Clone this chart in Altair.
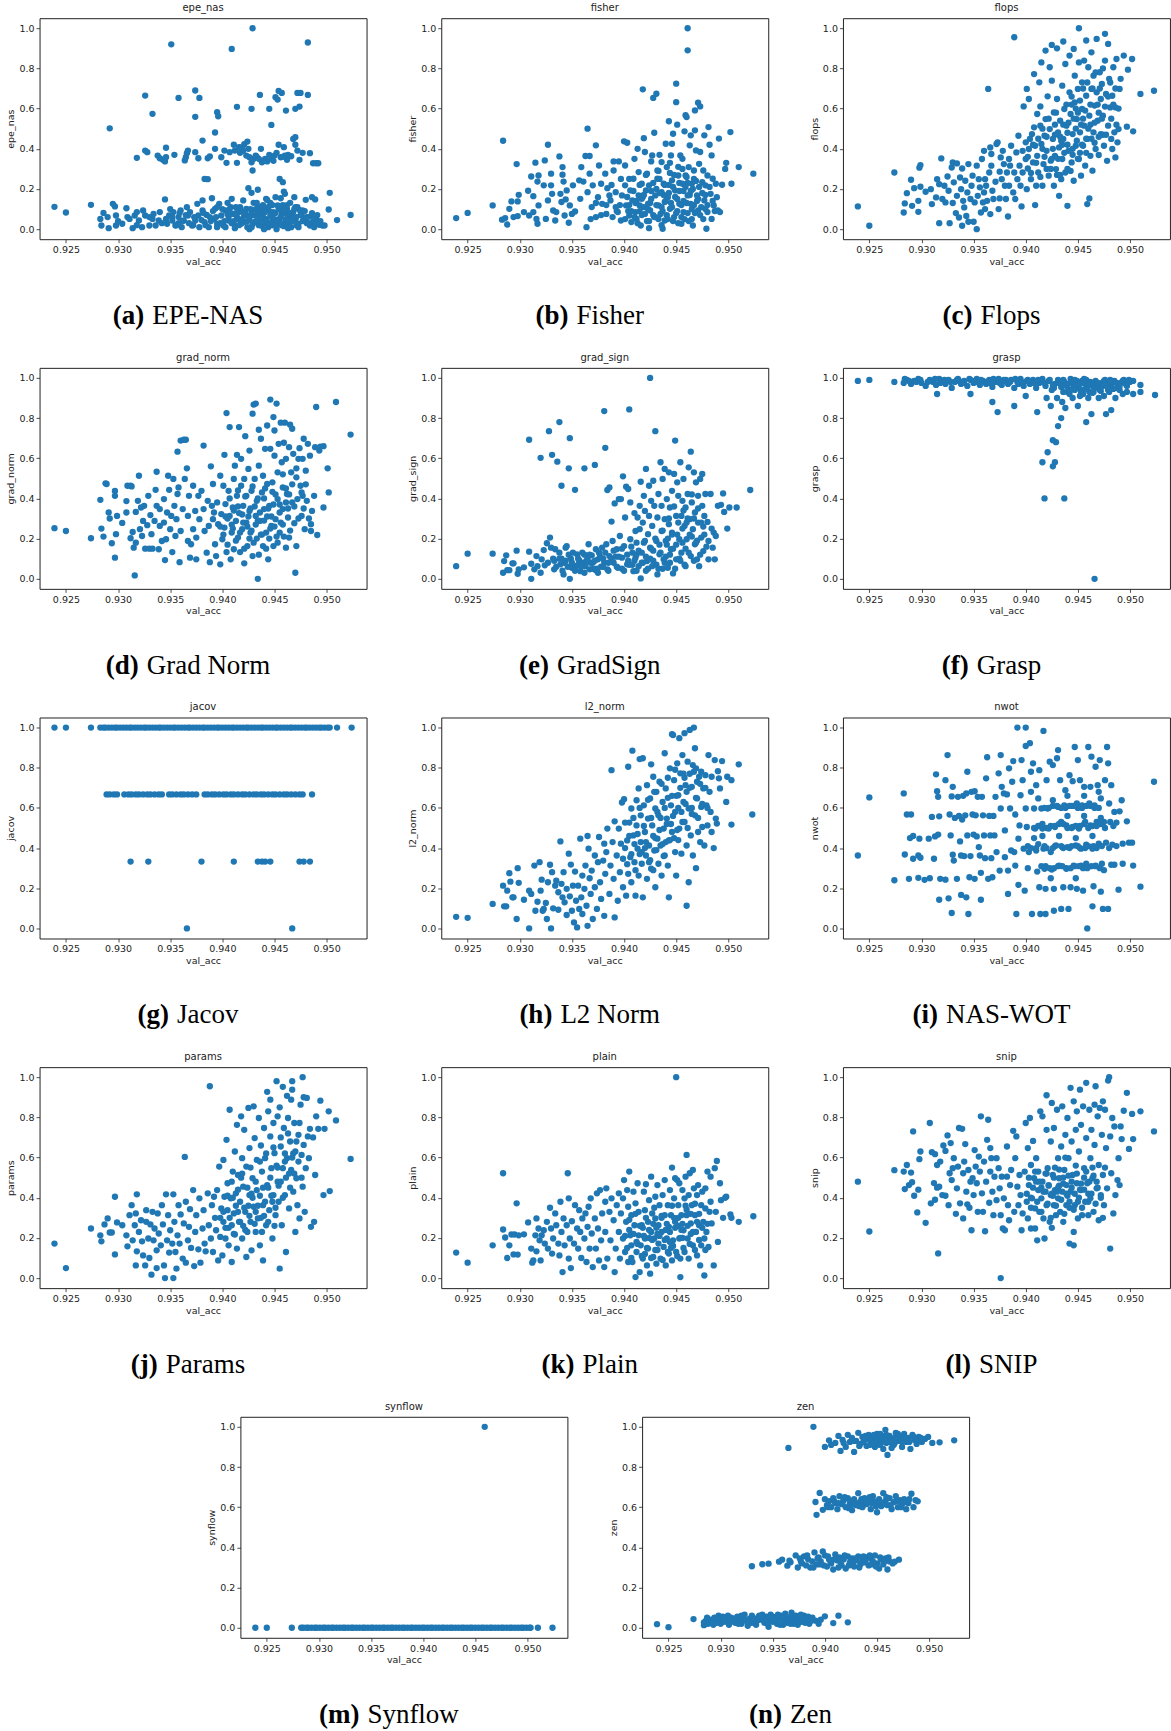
import altair as alt
import pandas as pd

# ---------------- data (val_acc, score) ----------------
EPE_NAS = [(.9239,.111),(.9250,.083),(.9274,.121),(.9292,.502),(.9351,.920),(.9409,.897),(.9429,1.0),(.9482,.929),
(.9326,.665),(.9333,.574),(.9358,.653),(.9374,.690),(.9378,.653),(.9374,.559),(.9395,.582),(.9396,.562),(.9414,.609),
(.9428,.599),(.9436,.668),(.9445,.599),(.9447,.519),(.9451,.657),(.9453,.645),(.9454,.688),(.9457,.678),(.9461,.590),
(.9470,.599),(.9474,.610),(.9472,.678),(.9475,.678),(.9482,.668),(.9393,.481),
(.9318,.355),(.9326,.391),(.9328,.383),(.9338,.366),(.9340,.353),(.9343,.345),(.9345,.337),(.9346,.405),(.9346,.358),
(.9354,.370),(.9364,.342),(.9365,.358),(.9366,.378),(.9367,.391),(.9374,.383),(.9377,.353),(.9381,.441),(.9383,.250),
(.9386,.249),(.9386,.353),(.9388,.362),(.9393,.400),(.9399,.358),(.9402,.391),(.9404,.330),(.9407,.383),(.9411,.420),
(.9412,.391),(.9414,.330),(.9416,.408),(.9417,.380),(.9419,.408),(.9421,.423),(.9423,.366),(.9424,.436),(.9426,.358),
(.9428,.333),(.9429,.292),(.9430,.350),(.9432,.366),(.9437,.400),(.9438,.333),(.9443,.337),(.9447,.350),(.9450,.366),
(.9454,.420),(.9455,.250),(.9458,.234),(.9456,.358),(.9459,.408),(.9460,.366),(.9462,.345),(.9466,.363),(.9468,.449),
(.9470,.458),(.9470,.420),(.9472,.391),(.9474,.345),(.9477,.380),(.9484,.378),(.9487,.328),(.9490,.328),(.9492,.328),
(.9283,.051),(.9284,.018),(.9286,.081),(.9290,.060),(.9291,.005),(.9295,.126),(.9297,.113),(.9298,.068),(.9298,.018),
(.9304,.027),(.9308,.104),(.9309,.060),(.9311,.051),(.9314,.005),(.9316,.068),(.9318,.085),(.9320,.043),(.9323,.010),
(.9324,.093),(.9326,.068),(.9330,.018),(.9333,.051),(.9334,.076),(.9336,.018),(.9339,.043),(.9340,.085),(.9345,.148),
(.9346,.051),(.9347,.027),(.9349,.068),(.9352,.043),(.9353,.085),(.9355,.018),(.9358,.060),(.9360,.093),(.9361,.010),
(.9363,.043),(.9366,.109),(.9367,.068),(.9369,.085),(.9371,.018),(.9374,.043),(.9376,.126),(.9377,.068),(.9381,.143),
(.9381,.093),(.9383,.035),(.9385,.071),(.9387,.010),(.9390,.154),(.9392,.051),(.9393,.101),(.9395,.027),(.9397,.126),
(.9399,.068),(.9401,.018),(.9403,.093),(.9405,.131),(.9406,.043),(.9409,.151),(.9410,.076),(.9412,.018),(.9413,.109),
(.9415,.051),(.9416,.085),(.9418,.027),(.9420,.143),(.9421,.068),(.9423,.101),(.9424,.010),(.9425,.204),(.9426,.051),
(.9428,.181),(.9428,.085),(.9430,.131),(.9431,.035),(.9433,.068),(.9434,.196),(.9435,.109),(.9437,.018),(.9438,.076),
(.9440,.051),(.9442,.151),(.9443,.101),(.9444,.010),(.9446,.131),(.9447,.060),(.9448,.035),(.9449,.085),(.9451,.159),
(.9452,.015),(.9453,.118),(.9455,.051),(.9456,.154),(.9457,.076),(.9459,.187),(.9460,.176),(.9460,.032),(.9462,.101),
(.9463,.060),(.9465,.131),(.9466,.010),(.9468,.085),(.9469,.159),(.9470,.048),(.9472,.109),(.9473,.027),(.9476,.071),
(.9477,.093),(.9479,.043),(.9480,.146),(.9482,.060),(.9484,.018),(.9486,.159),(.9487,.038),(.9489,.148),(.9490,.055),
(.9493,.022),(.9496,.018),(.9498,.018),(.9502,.098),(.9503,.181),(.9510,.045),(.9523,.071),
(.9372,.020),(.9380,.045),(.9388,.060),(.9395,.010),(.9402,.040),(.9405,.075),(.9409,.030),(.9414,.060),(.9418,.090),
(.9421,.035),(.9425,.065),(.9429,.025),(.9432,.100),(.9436,.045),(.9439,.120),(.9441,.030),(.9445,.090),(.9447,.020),
(.9450,.050),(.9454,.035),(.9456,.100),(.9459,.015),(.9461,.080),(.9464,.045),(.9467,.060),(.9471,.020),(.9474,.095),
(.9478,.055),(.9481,.030),(.9485,.065),(.9488,.010),(.9412,.005),(.9426,.000),(.9440,.000),(.9452,.000),(.9463,.005),
(.9395,.110),(.9407,.100),(.9433,.130),(.9443,.145),(.9458,.120),(.9470,.110),(.9358,.030),(.9365,.070),(.9350,.100),
(.9342,.030),(.9330,.060),(.9318,.020),(.9300,.040)]
EPE_NAS_CORE = [(.9352,.06),(.9356,.02),(.9359,.08),(.9362,.04),(.9368,.03),(.9373,.06),(.9378,.01),(.9382,.08),
(.9384,.02),(.9389,.04),(.9391,.09),(.9394,.06),(.9398,.03),(.9400,.10),(.9403,.01),(.9406,.06),(.9408,.11),(.9411,.04),
(.9413,.08),(.9416,.02),(.9417,.11),(.9419,.05),(.9422,.08),(.9424,.04),(.9427,.10),(.9428,.01),(.9430,.07),(.9432,.04),
(.9434,.09),(.9435,.02),(.9437,.06),(.9438,.10),(.9440,.08),(.9442,.05),(.9444,.11),(.9445,.03),(.9446,.07),(.9448,.12),
(.9449,.02),(.9451,.08),(.9453,.04),(.9454,.10),(.9456,.06),(.9457,.02),(.9459,.09),(.9461,.05),(.9462,.12),(.9464,.02),
(.9465,.08),(.9467,.04),(.9469,.10),(.9471,.06),(.9473,.01),(.9475,.07),(.9477,.04),(.9479,.09),(.9481,.06),(.9483,.03),
(.9486,.08),(.9489,.03),(.9491,.07),(.9494,.04),(.9420,.39),(.9425,.40),(.9433,.36),(.9441,.35),(.9445,.37),(.9449,.34),
(.9452,.38),(.9458,.36),(.9463,.37),(.9440,.34),(.9435,.35)]

FISHER = [(.9239,.055),(.9250,.081),(.9274,.118),(.9284,.440),(.9283,.047),(.9286,.055),(.9288,.023),(.9290,.101),
(.9292,.138),(.9297,.324),(.9298,.138),(.9294,.060),(.9298,.065),(.9299,.171),(.9304,.085),(.9308,.191),(.9309,.068),
(.9311,.262),(.9313,.164),(.9313,.085),(.9315,.331),(.9316,.051),(.9317,.237),(.9317,.027),(.9318,.267),(.9318,.118),
(.9323,.218),(.9324,.342),(.9325,.051),(.9327,.143),(.9327,.420),(.9330,.276),(.9330,.218),(.9331,.176),(.9332,.093),
(.9334,.043),(.9335,.085),(.9338,.362),(.9339,.176),(.9340,.135),(.9341,.309),(.9341,.271),(.9342,.237),(.9343,.068),
(.9344,.148),(.9345,.193),(.9347,.032),(.9348,.118),(.9350,.076),(.9351,.218),(.9353,.088),(.9357,.243),(.9358,.151),
(.9359,.309),(.9361,.237),(.9363,.364),(.9364,.010),(.9365,.500),(.9365,.184),(.9367,.276),(.9367,.364),(.9369,.110),
(.9370,.218),(.9373,.417),(.9373,.060),(.9375,.159),(.9376,.317),(.9378,.226),(.9379,.126),(.9382,.276),(.9383,.076),
(.9384,.204),(.9386,.168),(.9387,.143),(.9389,.060),(.9390,.337),(.9390,.292),(.9392,.110),(.9392,.184),(.9394,.085),
(.9395,.337),(.9397,.043),(.9398,.168),(.9400,.437),(.9401,.218),(.9401,.317),(.9403,.430),(.9402,.118),(.9405,.068),
(.9406,.193),(.9407,.035),(.9408,.143),(.9409,.251),(.9410,.350),(.9411,.085),(.9412,.051),(.9413,.400),(.9414,.168),
(.9414,.284),(.9415,.118),(.9416,.018),(.9417,.226),(.9417,.151),(.9418,.696),(.9419,.453),(.9420,.076),(.9420,.384),
(.9421,.193),(.9422,.276),(.9423,.126),(.9424,.005),(.9424,.218),(.9425,.093),(.9426,.337),(.9427,.367),(.9428,.653),
(.9429,.060),(.9429,.480),(.9430,.168),(.9431,.674),(.9432,.292),(.9432,.251),(.9433,.118),(.9434,.370),(.9435,.076),
(.9436,.184),(.9436,.334),(.9437,.002),(.9438,.226),(.9439,.135),(.9439,.043),(.9440,.425),(.9441,.309),(.9442,.159),
(.9443,.537),(.9444,.101),(.9445,.367),(.9446,.243),(.9446,.425),(.9447,.475),(.9448,.060),(.9449,.193),(.9450,.724),
(.9450,.632),(.9451,.520),(.9452,.267),(.9453,.126),(.9454,.367),(.9455,.027),(.9456,.226),(.9456,.350),(.9457,.085),
(.9458,.487),(.9459,.267),(.9459,.567),(.9460,.558),(.9461,1.0),(.9461,.890),(.9461,.168),(.9462,.309),(.9463,.417),
(.9464,.126),(.9464,.467),(.9465,.226),(.9466,.018),(.9467,.292),(.9468,.591),(.9468,.492),(.9469,.392),(.9470,.168),
(.9471,.093),(.9471,.629),(.9472,.325),(.9473,.611),(.9473,.384),(.9475,.234),(.9476,.292),(.9477,.467),(.9477,.143),
(.9478,.218),(.9479,.002),(.9480,.085),(.9480,.267),(.9481,.508),(.9482,.420),(.9483,.176),(.9484,.051),(.9484,.367),
(.9485,.251),(.9486,.118),(.9488,.226),(.9489,.159),(.9490,.093),(.9491,.451),(.9492,.085),(.9494,.221),(.9497,.300),
(.9498,.330),(.9502,.483),(.9503,.226),(.9510,.309),(.9524,.276),
(.9405,.12),(.9410,.06),(.9415,.09),(.9418,.16),(.9422,.04),(.9425,.13),(.9428,.07),(.9431,.20),(.9433,.05),(.9436,.11),
(.9438,.17),(.9441,.07),(.9443,.22),(.9445,.13),(.9447,.04),(.9449,.16),(.9451,.09),(.9453,.19),(.9455,.06),(.9457,.14),
(.9459,.21),(.9461,.08),(.9463,.17),(.9465,.05),(.9467,.12),(.9469,.24),(.9471,.15),(.9473,.07),(.9475,.18),(.9478,.10),
(.9426,.19),(.9434,.25),(.9444,.28),(.9452,.31),(.9460,.26),(.9466,.20),(.9419,.11),(.9412,.14),(.9404,.09),(.9396,.12)]
FISHER_CORE = [(.9401,.05),(.9403,.16),(.9405,.25),(.9407,.09),(.9409,.19),(.9411,.13),(.9413,.03),(.9415,.22),
(.9417,.07),(.9419,.17),(.9421,.27),(.9423,.10),(.9424,.04),(.9426,.15),(.9428,.23),(.9430,.06),(.9431,.12),(.9433,.29),
(.9434,.18),(.9436,.02),(.9437,.09),(.9439,.22),(.9440,.14),(.9442,.05),(.9443,.18),(.9444,.33),(.9446,.11),(.9447,.21),
(.9448,.27),(.9450,.08),(.9451,.15),(.9452,.03),(.9453,.23),(.9455,.12),(.9456,.30),(.9457,.19),(.9458,.05),(.9460,.13),
(.9461,.23),(.9462,.04),(.9464,.19),(.9465,.10),(.9467,.25),(.9468,.08),(.9470,.14),(.9472,.21),(.9474,.11),(.9476,.05),
(.9478,.17),(.9480,.12),(.9482,.21),(.9485,.14),(.9487,.09),(.9383,.12),(.9388,.22),(.9393,.09),(.9397,.25),(.9378,.07),
(.9373,.13),(.9368,.05)]

FLOPS = [(.9239,.113),(.9250,.017),(.9274,.282),(.9283,.083),(.9284,.128),(.9286,.179),(.9290,.246),(.9291,.116),
(.9293,.204),(.9297,.141),(.9297,.086),(.9298,.306),(.9299,.319),(.9299,.211),(.9304,.186),(.9309,.199),(.9310,.125),
(.9314,.158),(.9315,.249),(.9317,.224),(.9317,.030),(.9319,.352),(.9320,.150),(.9322,.216),(.9323,.133),(.9325,.262),
(.9326,.191),(.9327,.030),(.9329,.307),(.9330,.332),(.9330,.130),(.9331,.233),(.9333,.080),(.9334,.327),(.9334,.166),
(.9336,.058),(.9337,.257),(.9338,.199),(.9339,.017),(.9339,.302),(.9340,.141),(.9341,.108),(.9342,.241),(.9343,.066),
(.9344,.183),(.9345,.324),(.9345,.037),(.9347,.150),(.9348,.216),(.9349,.266),(.9350,.037),(.9351,.133),(.9353,.000),
(.9353,.316),(.9354,.166),(.9355,.249),(.9356,.208),(.9357,.083),(.9358,.349),(.9359,.133),(.9360,.390),(.9360,.183),
(.9361,.249),(.9361,.100),(.9362,.216),(.9363,.141),(.9364,.698),(.9365,.282),(.9366,.075),(.9366,.407),(.9367,.374),
(.9367,.316),(.9368,.191),(.9369,.150),(.9371,.236),(.9372,.424),(.9373,.432),(.9374,.100),(.9375,.153),(.9375,.286),
(.9376,.357),(.9377,.249),(.9378,.390),(.9379,.324),(.9380,.216),(.9381,.150),(.9382,.282),(.9383,.063),(.9384,.349),
(.9384,.216),(.9385,.316),(.9386,.415),(.9388,.183),(.9389,.955),(.9389,.282),(.9390,.150),(.9391,.382),(.9392,.249),
(.9393,.465),(.9394,.316),(.9395,.216),(.9396,.113),(.9397,.390),(.9397,.282),(.9398,.611),(.9400,.349),(.9400,.432),
(.9401,.698),(.9401,.199),(.9402,.302),(.9403,.399),(.9403,.648),(.9404,.449),(.9405,.249),(.9406,.473),(.9407,.332),
(.9408,.772),(.9408,.507),(.9409,.120),(.9409,.415),(.9410,.216),(.9411,.573),(.9411,.365),(.9412,.282),(.9413,.731),
(.9414,.515),(.9414,.611),(.9415,.424),(.9415,.830),(.9416,.216),(.9417,.324),(.9418,.465),(.9419,.889),(.9419,.548),
(.9420,.390),(.9421,.661),(.9422,.266),(.9423,.806),(.9423,.498),(.9424,.341),(.9425,.917),(.9425,.739),(.9426,.449),
(.9427,.216),(.9427,.581),(.9428,.365),(.9429,.299),(.9430,.648),(.9430,.900),(.9431,.482),(.9432,.407),(.9432,.166),
(.9433,.540),(.9434,.249),(.9435,.714),(.9435,.349),(.9436,.934),(.9436,.449),(.9437,.598),(.9438,.822),(.9438,.282),
(.9439,.515),(.9440,.116),(.9441,.390),(.9442,.681),(.9442,.864),(.9443,.573),(.9444,.332),(.9445,.473),(.9446,.897),
(.9446,.241),(.9447,.764),(.9447,.631),(.9448,.415),(.9449,.548),(.9450,.698),(.9451,.349),(.9451,1.0),(.9451,.830),
(.9452,.482),(.9453,.266),(.9454,.731),(.9454,.598),(.9455,.415),(.9456,.839),(.9456,.515),(.9457,.316),(.9458,.939),
(.9458,.664),(.9459,.125),(.9459,.449),(.9460,.806),(.9461,.565),(.9461,.153),(.9462,.365),(.9463,.880),(.9463,.698),
(.9464,.291),(.9465,.482),(.9465,.764),(.9466,.615),(.9467,.399),(.9468,.947),(.9468,.681),(.9469,.540),(.9470,.369),
(.9471,.781),(.9472,.648),(.9472,.473),(.9473,.723),(.9474,.565),(.9475,.415),(.9476,.972),(.9476,.839),(.9477,.673),
(.9478,.340),(.9479,.515),(.9479,.922),(.9480,.748),(.9481,.606),(.9482,.449),(.9483,.399),(.9483,.664),(.9484,.806),
(.9485,.482),(.9486,.357),(.9486,.606),(.9487,.847),(.9488,.432),(.9489,.498),(.9490,.698),(.9491,.748),(.9494,.864),
(.9497,.510),(.9498,.794),(.9502,.847),(.9503,.487),(.9510,.673),(.9523,.689),
(.9420,.30),(.9425,.35),(.9430,.27),(.9435,.42),(.9440,.30),(.9445,.40),(.9448,.50),(.9452,.38),(.9455,.55),(.9458,.45),
(.9462,.52),(.9466,.43),(.9470,.58),(.9474,.47),(.9433,.46),(.9428,.52),(.9444,.62),(.9450,.58),(.9440,.48),(.9416,.40)]
FLOPS_CORE = [(.9402,.36),(.9405,.28),(.9407,.42),(.9410,.33),(.9412,.45),(.9414,.26),(.9416,.50),(.9418,.36),
(.9420,.46),(.9422,.55),(.9424,.30),(.9426,.40),(.9428,.47),(.9429,.58),(.9431,.35),(.9433,.27),(.9434,.44),(.9436,.52),
(.9437,.38),(.9439,.62),(.9440,.42),(.9441,.53),(.9443,.29),(.9444,.66),(.9445,.37),(.9446,.55),(.9448,.60),(.9449,.44),
(.9450,.35),(.9452,.64),(.9453,.52),(.9454,.42),(.9455,.70),(.9457,.59),(.9458,.38),(.9459,.73),(.9460,.50),(.9462,.62),
(.9463,.45),(.9464,.70),(.9466,.53),(.9467,.78),(.9469,.62),(.9470,.46),(.9471,.70),(.9473,.55),(.9474,.80),(.9476,.61),
(.9477,.47),(.9479,.66),(.9481,.73),(.9482,.55),(.9484,.62),(.9486,.70),(.9487,.52),(.9489,.60)]

GRAD_NORM = [(.9239,.252),(.9250,.238),(.9274,.202),(.9283,.393),(.9284,.250),(.9286,.210),(.9288,.475),(.9289,.472),
(.9291,.330),(.9292,.300),(.9294,.177),(.9297,.437),(.9297,.105),(.9297,.413),(.9298,.222),(.9299,.313),(.9304,.278),
(.9308,.387),(.9309,.463),(.9312,.463),(.9313,.460),(.9308,.330),(.9312,.202),(.9314,.233),(.9315,.155),(.9316,.017),
(.9317,.333),(.9317,.180),(.9319,.388),(.9320,.513),(.9321,.247),(.9322,.355),(.9323,.213),(.9324,.288),(.9325,.363),
(.9326,.150),(.9328,.267),(.9329,.413),(.9330,.150),(.9331,.317),(.9332,.222),(.9333,.150),(.9335,.288),(.9336,.443),
(.9337,.363),(.9337,.533),(.9339,.147),(.9340,.263),(.9340,.347),(.9342,.188),(.9344,.397),(.9344,.280),(.9345,.093),
(.9346,.197),(.9347,.330),(.9348,.513),(.9349,.443),(.9350,.247),(.9351,.313),(.9352,.133),(.9353,.497),(.9354,.363),
(.9355,.213),(.9356,.297),(.9357,.633),(.9357,.422),(.9358,.455),(.9359,.083),(.9360,.688),(.9360,.238),(.9362,.347),
(.9363,.692),(.9364,.497),(.9365,.692),(.9366,.550),(.9367,.188),(.9367,.313),(.9368,.413),(.9369,.105),(.9370,.172),
(.9372,.463),(.9372,.247),(.9374,.338),(.9375,.097),(.9375,.205),(.9377,.413),(.9378,.297),(.9380,.438),(.9382,.663),
(.9382,.347),(.9383,.238),(.9385,.130),(.9386,.388),(.9387,.263),(.9388,.083),(.9389,.560),(.9390,.363),(.9391,.297),
(.9391,.472),(.9393,.172),(.9394,.113),(.9395,.380),(.9396,.272),(.9398,.513),(.9398,.072),(.9399,.322),(.9400,.197),
(.9401,.463),(.9402,.617),(.9402,.255),(.9403,.372),(.9404,.825),(.9404,.133),(.9406,.438),(.9407,.755),(.9407,.313),
(.9408,.097),(.9409,.230),(.9410,.355),(.9411,.497),(.9411,.147),(.9412,.563),(.9413,.288),(.9414,.617),(.9414,.413),
(.9415,.205),(.9416,.755),(.9416,.327),(.9417,.133),(.9418,.463),(.9418,.597),(.9419,.247),(.9420,.363),(.9421,.077),
(.9421,.497),(.9422,.710),(.9423,.280),(.9423,.413),(.9424,.163),(.9425,.547),(.9426,.338),(.9426,.638),(.9427,.230),
(.9428,.438),(.9429,.113),(.9429,.822),(.9430,.867),(.9431,.497),(.9432,.313),(.9432,.872),(.9433,.388),(.9433,.200),
(.9434,.000),(.9435,.742),(.9435,.563),(.9436,.288),(.9437,.697),(.9438,.430),(.9439,.163),(.9439,.513),(.9440,.347),
(.9441,.647),(.9442,.230),(.9443,.472),(.9443,.763),(.9444,.097),(.9445,.363),(.9446,.647),(.9446,.892),(.9447,.263),
(.9448,.433),(.9449,.805),(.9449,.163),(.9450,.613),(.9450,.738),(.9451,.297),(.9452,.872),(.9453,.530),(.9453,.397),
(.9454,.672),(.9455,.230),(.9456,.777),(.9457,.580),(.9458,.347),(.9458,.455),(.9459,.677),(.9460,.777),(.9461,.155),
(.9461,.597),(.9462,.422),(.9463,.305),(.9464,.655),(.9464,.205),(.9465,.767),(.9466,.530),(.9467,.747),(.9467,.380),
(.9468,.622),(.9469,.277),(.9470,.030),(.9471,.505),(.9471,.163),(.9472,.397),(.9473,.597),(.9474,.650),(.9475,.463),
(.9476,.313),(.9477,.413),(.9477,.597),(.9478,.697),(.9479,.247),(.9480,.538),(.9481,.388),(.9482,.672),(.9483,.300),
(.9484,.613),(.9485,.272),(.9485,.238),(.9486,.338),(.9488,.413),(.9489,.655),(.9490,.855),(.9491,.218),(.9493,.638),
(.9494,.658),(.9497,.660),(.9497,.355),(.9501,.550),(.9502,.430),(.9509,.880),(.9523,.718),
(.9405,.30),(.9410,.25),(.9415,.36),(.9420,.28),(.9425,.31),(.9428,.24),(.9431,.36),(.9434,.29),(.9437,.22),(.9440,.40),
(.9443,.31),(.9446,.25),(.9449,.37),(.9452,.21),(.9455,.33),(.9458,.27),(.9461,.38),(.9464,.42),(.9398,.26),(.9392,.33)]
GRAD_NORM_CORE = [(.9401,.22),(.9403,.31),(.9405,.17),(.9407,.40),(.9409,.27),(.9411,.34),(.9413,.19),(.9415,.44),
(.9417,.23),(.9419,.32),(.9421,.15),(.9422,.41),(.9424,.26),(.9426,.20),(.9427,.35),(.9429,.46),(.9430,.18),(.9432,.27),
(.9434,.40),(.9435,.12),(.9436,.33),(.9438,.22),(.9440,.29),(.9441,.45),(.9442,.15),(.9444,.35),(.9445,.20),(.9447,.31),
(.9448,.48),(.9450,.26),(.9451,.42),(.9453,.18),(.9455,.37),(.9456,.28),(.9458,.52),(.9459,.21),(.9461,.45),(.9463,.35),
(.9465,.24),(.9467,.47),(.9469,.36),(.9471,.55),(.9473,.30),(.9476,.43),(.9478,.35),(.9480,.47)]

GRAD_SIGN = [(.9239,.063),(.9250,.125),(.9274,.125),(.9284,.030),(.9285,.088),(.9287,.117),(.9288,.043),(.9290,.043),
(.9293,.077),(.9294,.077),(.9297,.140),(.9298,.025),(.9299,.047),(.9304,.057),(.9309,.692),(.9309,.135),(.9311,.000),
(.9311,.075),(.9314,.047),(.9316,.113),(.9317,.063),(.9320,.602),(.9320,.030),(.9321,.097),(.9323,.143),(.9324,.067),
(.9326,.177),(.9327,.080),(.9328,.735),(.9329,.205),(.9330,.155),(.9331,.617),(.9332,.100),(.9333,.047),(.9334,.147),
(.9336,.583),(.9338,.780),(.9338,.130),(.9339,.072),(.9340,.463),(.9342,.022),(.9343,.080),(.9344,.155),(.9345,.163),
(.9347,.550),(.9348,.000),(.9348,.700),(.9349,.100),(.9350,.055),(.9351,.130),(.9353,.443),(.9354,.063),(.9355,.122),
(.9357,.092),(.9358,.038),(.9360,.130),(.9361,.080),(.9362,.550),(.9363,.063),(.9365,.100),(.9366,.172),(.9367,.047),
(.9369,.117),(.9370,.080),(.9372,.567),(.9373,.147),(.9373,.043),(.9375,.097),(.9376,.130),(.9378,.060),(.9379,.155),
(.9381,.835),(.9381,.080),(.9382,.652),(.9383,.172),(.9384,.442),(.9384,.047),(.9386,.455),(.9386,.113),(.9388,.285),
(.9389,.188),(.9390,.080),(.9391,.375),(.9393,.147),(.9394,.055),(.9395,.397),(.9396,.213),(.9397,.397),(.9398,.105),
(.9399,.510),(.9400,.163),(.9401,.305),(.9402,.458),(.9403,.072),(.9404,.447),(.9405,.843),(.9406,.197),(.9406,.380),
(.9408,.130),(.9409,.038),(.9410,.327),(.9411,.238),(.9411,.105),(.9412,.180),(.9413,.305),(.9414,.063),(.9415,.363),
(.9415,.247),(.9416,.483),(.9416,.002),(.9417,.130),(.9418,.280),(.9419,.413),(.9420,.188),(.9420,.338),(.9421,.547),
(.9422,.088),(.9423,.222),(.9424,.313),(.9424,.463),(.9425,1.0),(.9425,.155),(.9426,.388),(.9427,.263),(.9427,.063),
(.9428,.488),(.9429,.363),(.9430,.735),(.9431,.188),(.9432,.022),(.9432,.305),(.9433,.422),(.9434,.122),(.9435,.580),
(.9436,.238),(.9436,.363),(.9437,.497),(.9438,.097),(.9439,.297),(.9439,.547),(.9440,.188),(.9441,.397),(.9442,.055),
(.9443,.530),(.9443,.272),(.9444,.355),(.9445,.147),(.9446,.438),(.9446,.230),(.9447,.027),(.9448,.522),(.9449,.688),
(.9450,.313),(.9450,.097),(.9451,.480),(.9452,.413),(.9453,.197),(.9454,.580),(.9455,.313),(.9455,.130),(.9456,.388),
(.9457,.497),(.9458,.263),(.9459,.063),(.9459,.355),(.9460,.197),(.9461,.422),(.9462,.555),(.9463,.297),(.9464,.113),
(.9464,.633),(.9465,.380),(.9466,.247),(.9467,.530),(.9468,.172),(.9468,.330),(.9469,.480),(.9470,.097),(.9471,.413),
(.9471,.280),(.9472,.063),(.9473,.497),(.9474,.205),(.9475,.363),(.9475,.522),(.9476,.138),(.9477,.313),(.9478,.422),
(.9480,.283),(.9481,.097),(.9481,.188),(.9483,.422),(.9484,.250),(.9485,.155),(.9486,.230),(.9487,.097),(.9488,.213),
(.9490,.363),(.9493,.368),(.9495,.425),(.9496,.333),(.9499,.250),(.9501,.355),(.9508,.355),(.9521,.442),
(.9385,.08),(.9392,.11),(.9398,.05),(.9404,.09),(.9408,.07),(.9412,.12),(.9418,.08),(.9421,.04),(.9425,.10),(.9428,.14),
(.9431,.07),(.9434,.17),(.9437,.05),(.9440,.11),(.9442,.20),(.9444,.08),(.9447,.15),(.9449,.05),(.9451,.22),(.9453,.10),
(.9456,.18),(.9458,.07),(.9460,.28),(.9462,.13),(.9465,.21),(.9467,.09),(.9470,.19),(.9473,.12),(.9476,.26),(.9479,.16),
(.9356,.07),(.9362,.12),(.9368,.08),(.9374,.05),(.9380,.10),(.9346,.06),(.9340,.10),(.9333,.09)]
GRAD_SIGN_CORE = [(.9335,.06),(.9338,.10),(.9341,.04),(.9344,.09),(.9347,.12),(.9350,.08),(.9353,.04),(.9356,.10),
(.9359,.06),(.9362,.03),(.9364,.09),(.9367,.12),(.9370,.05),(.9372,.09),(.9375,.03),(.9377,.11),(.9380,.06),(.9382,.13),
(.9385,.04),(.9388,.10),(.9390,.14),(.9393,.06),(.9395,.11),(.9398,.15),(.9400,.04),(.9403,.12),(.9405,.07),(.9407,.16),
(.9410,.09),(.9412,.04),(.9414,.14),(.9417,.08),(.9419,.18),(.9421,.11),(.9423,.05),(.9426,.15),(.9428,.09),(.9430,.20),
(.9433,.05),(.9435,.13),(.9437,.24),(.9439,.08),(.9441,.17),(.9443,.30),(.9444,.12),(.9446,.22),(.9448,.36),(.9450,.17),
(.9452,.28),(.9454,.09),(.9456,.25),(.9457,.34),(.9459,.15),(.9461,.30),(.9463,.22),(.9465,.42),(.9467,.30),(.9469,.18),
(.9471,.35),(.9474,.28),(.9477,.22)]

GRASP = [(.9239,.985),(.9250,.990),(.9274,.980),(.9283,.975),(.9286,.990),(.9290,.970),(.9293,.985),(.9297,.995),
(.9300,.975),(.9304,.960),(.9308,.990),(.9311,.980),(.9314,.965),(.9317,.995),(.9320,.985),(.9323,.970),(.9326,.990),
(.9329,.950),(.9332,.980),(.9335,.995),(.9338,.970),(.9341,.985),(.9344,.960),(.9347,.990),(.9350,.975),(.9353,.995),
(.9356,.965),(.9359,.985),(.9362,.970),(.9365,.990),(.9368,.955),(.9371,.980),(.9374,.995),(.9377,.965),(.9380,.985),
(.9383,.970),(.9386,.990),(.9389,.950),(.9392,.980),(.9395,.995),(.9398,.960),(.9401,.985),(.9404,.970),(.9407,.990),
(.9410,.950),(.9413,.975),(.9416,.995),(.9419,.960),(.9422,.985),(.9425,.940),(.9428,.970),(.9431,.990),(.9434,.955),
(.9437,.980),(.9440,.930),(.9443,.995),(.9446,.965),(.9449,.985),(.9452,.945),(.9455,.975),(.9458,.990),(.9461,.930),
(.9464,.960),(.9467,.985),(.9470,.950),(.9473,.975),(.9476,.990),(.9479,.940),(.9482,.965),(.9485,.985),(.9488,.950),
(.9491,.975),(.9494,.990),(.9497,.960),(.9500,.980),(.9503,.985),(.9510,.965),(.9524,.915),
(.9295,.98),(.9318,.975),(.9336,.985),(.9352,.98),(.9366,.975),(.9381,.99),(.9393,.97),(.9405,.975),(.9415,.98),
(.9426,.965),(.9433,.98),(.9441,.97),(.9448,.96),(.9454,.985),(.9460,.97),(.9468,.965),(.9474,.96),(.9480,.975),
(.9315,.920),(.9347,.920),(.9368,.880),(.9373,.830),(.9389,.860),(.9400,.910),(.9411,.830),(.9416,.580),(.9418,.400),
(.9421,.630),(.9426,.690),(.9429,.680),(.9426,.560),(.9428,.580),(.9434,.800),(.9437,.400),(.9431,.760),(.9420,.900),
(.9435,.880),(.9445,.900),(.9450,.860),(.9458,.780),(.9463,.820),(.9466,.000),(.9470,.900),(.9477,.820),(.9482,.840),
(.9486,.900),(.9493,.920),(.9455,.920),(.9442,.920),(.9430,.900),(.9424,.860),(.9438,.850),(.9447,.940),(.9452,.910),
(.9460,.900),(.9465,.930),(.9475,.910),(.9480,.930),(.9490,.940),(.9497,.930),(.9503,.920),(.9510,.930)]
GRASP_CORE = [(.9284,.995),(.9288,.985),(.9299,.99),(.9306,.98),(.9313,.995),(.9322,.99),(.9328,.98),(.9334,.99),
(.9340,.975),(.9346,.995),(.9351,.985),(.9357,.99),(.9363,.98),(.9369,.995),(.9375,.975),(.9379,.99),(.9385,.98),
(.9390,.995),(.9396,.98),(.9402,.99),(.9408,.975),(.9412,.99),(.9418,.975),(.9423,.99),(.9427,.95),(.9432,.975),
(.9436,.99),(.9439,.96),(.9444,.975),(.9447,.99),(.9451,.97),(.9453,.93),(.9456,.995),(.9459,.955),(.9462,.98),
(.9466,.95),(.9469,.975),(.9472,.935),(.9475,.985),(.9478,.96),(.9481,.99),(.9484,.945),(.9487,.975),(.9490,.96),
(.9493,.985),(.9496,.97),(.9499,.99),(.9443,.94),(.9457,.945),(.9436,.93),(.9464,.925),(.9471,.94)]

JACOV_X_1 = [.9239,.9250,.9274,.9283,.9286,.9288,.9291,.9294,.9297,.9299,.9302,.9305,.9308,.9311,.9313,.9316,.9319,
.9322,.9325,.9327,.9330,.9333,.9336,.9339,.9341,.9344,.9347,.9350,.9353,.9355,.9358,.9361,.9364,.9367,.9369,.9372,
.9375,.9378,.9381,.9383,.9386,.9389,.9392,.9395,.9397,.9400,.9403,.9406,.9409,.9411,.9414,.9417,.9420,.9423,.9425,
.9428,.9431,.9434,.9437,.9439,.9442,.9445,.9448,.9451,.9453,.9456,.9459,.9462,.9465,.9467,.9470,.9473,.9476,.9479,
.9481,.9484,.9487,.9490,.9493,.9495,.9498,.9501,.9503,.9510,.9524]
JACOV_X_2 = [.9289,.9292,.9296,.9299,.9306,.9310,.9313,.9317,.9320,.9324,.9328,.9331,.9335,.9339,.9342,.9349,.9352,
.9356,.9360,.9363,.9367,.9371,.9375,.9383,.9386,.9390,.9393,.9397,.9401,.9404,.9408,.9411,.9415,.9419,.9422,.9426,
.9430,.9433,.9437,.9440,.9444,.9448,.9451,.9455,.9459,.9462,.9466,.9470,.9474,.9477,.9486]
JACOV_X_3 = [.9312,.9329,.9380,.9411,.9434,.9438,.9441,.9446,.9474,.9478,.9484]
JACOV_X_4 = [.9366,.9467]
JACOV_LEVELS = [1.0, 0.667, 0.333, 0.0]

L2_NORM = [(.9239,.058),(.9250,.053),(.9274,.122),(.9284,.213),(.9285,.110),(.9287,.110),(.9288,.188),(.9290,.275),
(.9291,.233),(.9293,.155),(.9294,.155),(.9297,.047),(.9298,.300),(.9299,.227),(.9304,.143),(.9309,.000),(.9309,.188),
(.9311,.172),(.9314,.313),(.9315,.088),(.9317,.133),(.9319,.330),(.9320,.188),(.9321,.243),(.9322,.088),(.9323,.097),
(.9325,.127),(.9326,.047),(.9327,.230),(.9329,.317),(.9330,.000),(.9331,.280),(.9332,.100),(.9334,.213),(.9335,.238),
(.9337,.180),(.9337,.093),(.9339,.433),(.9340,.222),(.9341,.155),(.9342,.280),(.9343,.130),(.9345,.197),(.9345,.067),
(.9347,.372),(.9348,.160),(.9349,.318),(.9350,.088),(.9351,.213),(.9352,.030),(.9353,.283),(.9354,.138),(.9355,.005),
(.9356,.213),(.9357,.097),(.9358,.447),(.9359,.155),(.9360,.263),(.9360,.072),(.9362,.197),(.9363,.313),(.9364,.113),
(.9365,.013),(.9365,.460),(.9366,.397),(.9367,.250),(.9368,.172),(.9369,.288),(.9370,.047),(.9372,.363),(.9372,.205),
(.9374,.097),(.9375,.330),(.9376,.455),(.9377,.230),(.9378,.147),(.9380,.338),(.9381,.422),(.9381,.063),(.9382,.272),
(.9383,.380),(.9384,.497),(.9386,.172),(.9387,.313),(.9388,.788),(.9389,.430),(.9390,.247),(.9391,.533),(.9391,.055),
(.9393,.363),(.9394,.138),(.9395,.497),(.9396,.280),(.9397,.422),(.9398,.627),(.9399,.205),(.9399,.347),(.9400,.643),
(.9401,.527),(.9402,.163),(.9403,.438),(.9404,.272),(.9404,.805),(.9405,.527),(.9406,.355),(.9407,.597),(.9407,.230),
(.9408,.885),(.9409,.463),(.9410,.330),(.9411,.163),(.9412,.513),(.9412,.638),(.9413,.397),(.9414,.697),(.9414,.263),
(.9415,.843),(.9416,.563),(.9416,.430),(.9417,.322),(.9418,.155),(.9418,.847),(.9419,.613),(.9420,.480),(.9421,.363),
(.9422,.713),(.9422,.247),(.9423,.547),(.9424,.413),(.9425,.647),(.9426,.817),(.9426,.297),(.9427,.513),(.9428,.755),
(.9429,.388),(.9430,.597),(.9430,.205),(.9431,.680),(.9432,.447),(.9433,.322),(.9433,.563),(.9434,.730),(.9435,.413),
(.9436,.263),(.9437,.630),(.9438,.497),(.9439,.363),(.9439,.872),(.9440,.697),(.9441,.547),(.9442,.313),(.9443,.438),
(.9443,.155),(.9444,.797),(.9445,.613),(.9446,.967),(.9446,.480),(.9447,.963),(.9448,.738),(.9449,.380),(.9449,.580),
(.9450,.263),(.9451,.822),(.9452,.663),(.9453,.947),(.9453,.497),(.9454,.772),(.9455,.372),(.9456,.863),(.9457,.630),
(.9458,.972),(.9458,.530),(.9459,.713),(.9460,.113),(.9460,.413),(.9461,.830),(.9462,.597),(.9462,.230),(.9463,.988),
(.9464,.463),(.9465,.705),(.9466,.363),(.9466,.813),(.9467,1.0),(.9468,.897),(.9468,.563),(.9469,.300),(.9469,.797),
(.9470,.647),(.9471,.480),(.9472,.755),(.9473,.430),(.9474,.605),(.9474,.780),(.9475,.505),(.9476,.697),(.9477,.413),
(.9478,.763),(.9479,.613),(.9480,.513),(.9481,.863),(.9482,.680),(.9483,.580),(.9484,.755),(.9484,.480),(.9486,.400),
(.9487,.838),(.9488,.547),(.9489,.522),(.9490,.783),(.9491,.747),(.9492,.697),(.9494,.833),(.9498,.630),(.9499,.755),
(.9503,.738),(.9503,.517),(.9510,.817),(.9523,.567),
(.9420,.40),(.9425,.34),(.9430,.45),(.9435,.55),(.9440,.43),(.9445,.52),(.9450,.66),(.9455,.58),(.9460,.68),(.9465,.60),
(.9410,.42),(.9415,.37),(.9428,.29),(.9438,.36),(.9448,.45),(.9458,.75),(.9470,.73),(.9463,.77),(.9442,.65),(.9452,.44)]
L2_NORM_CORE = [(.9401,.40),(.9403,.32),(.9405,.46),(.9407,.37),(.9409,.55),(.9411,.29),(.9413,.47),(.9415,.60),
(.9417,.38),(.9419,.51),(.9421,.43),(.9423,.64),(.9424,.33),(.9426,.55),(.9428,.46),(.9429,.68),(.9431,.39),(.9432,.58),
(.9434,.49),(.9436,.72),(.9437,.42),(.9439,.60),(.9441,.52),(.9442,.75),(.9444,.44),(.9446,.66),(.9447,.56),(.9449,.79),
(.9451,.49),(.9452,.60),(.9454,.70),(.9456,.53),(.9457,.77),(.9459,.62),(.9461,.50),(.9463,.70),(.9465,.57),(.9467,.78),
(.9469,.65),(.9471,.55),(.9473,.72),(.9475,.62),(.9478,.70),(.9480,.60)]

NWOT = [(.9239,.363),(.9250,.652),(.9274,.240),(.9283,.672),(.9284,.368),(.9286,.567),(.9288,.247),(.9290,.567),
(.9289,.450),(.9292,.460),(.9292,.347),(.9297,.252),(.9297,.363),(.9298,.447),(.9299,.352),(.9303,.242),(.9307,.447),
(.9308,.250),(.9310,.555),(.9312,.347),(.9313,.458),(.9314,.767),(.9315,.683),(.9316,.467),(.9316,.655),(.9317,.558),
(.9317,.143),(.9318,.247),(.9323,.738),(.9323,.243),(.9325,.863),(.9326,.150),(.9327,.567),(.9328,.463),(.9329,.657),
(.9330,.705),(.9329,.077),(.9330,.367),(.9331,.338),(.9332,.550),(.9334,.247),(.9335,.655),(.9336,.560),(.9337,.433),
(.9338,.363),(.9338,.167),(.9339,.542),(.9340,.660),(.9341,.360),(.9342,.563),(.9343,.672),(.9343,.155),(.9344,.780),
(.9344,.463),(.9345,.072),(.9346,.255),(.9347,.360),(.9348,.680),(.9349,.567),(.9350,.467),(.9351,.683),(.9351,.247),
(.9352,.563),(.9353,.458),(.9354,.655),(.9355,.405),(.9356,.363),(.9357,.143),(.9357,.277),(.9358,.655),(.9359,.563),
(.9360,.463),(.9361,.350),(.9362,.747),(.9363,.852),(.9364,.247),(.9365,.560),(.9366,.463),(.9367,.350),(.9368,.255),
(.9369,.560),(.9370,.463),(.9371,.655),(.9372,.380),(.9374,.772),(.9375,.288),(.9376,.863),(.9376,.597),(.9377,.705),
(.9379,.672),(.9380,.355),(.9380,.488),(.9382,.667),(.9383,.172),(.9383,.288),(.9384,.797),(.9385,.597),(.9386,.388),
(.9387,.730),(.9388,.833),(.9389,.380),(.9390,.567),(.9390,.313),(.9391,.072),(.9392,1.0),(.9393,.447),(.9393,.217),
(.9394,.513),(.9395,.663),(.9396,.838),(.9397,.738),(.9398,.397),(.9399,.188),(.9400,.908),(.9400,1.0),(.9400,.597),
(.9401,.505),(.9402,.300),(.9403,.380),(.9404,.922),(.9405,.780),(.9405,.680),(.9406,.072),(.9407,.822),(.9408,.597),
(.9409,.497),(.9410,.388),(.9410,.713),(.9411,.283),(.9412,.647),(.9413,.205),(.9413,.788),(.9414,.072),(.9415,.597),
(.9416,.497),(.9417,.983),(.9417,.397),(.9418,.297),(.9419,.197),(.9419,.072),(.9420,.738),(.9421,.597),(.9422,.497),
(.9423,.830),(.9424,.380),(.9425,.293),(.9426,.813),(.9426,.638),(.9427,.197),(.9427,.088),(.9428,.505),(.9429,.413),
(.9430,.847),(.9431,.888),(.9431,.605),(.9432,.313),(.9433,.738),(.9434,.097),(.9434,.530),(.9435,.405),(.9436,.205),
(.9437,.613),(.9438,.688),(.9439,.297),(.9439,.513),(.9440,.405),(.9441,.097),(.9442,.763),(.9443,.205),(.9444,.610),
(.9445,.505),(.9445,.733),(.9446,.313),(.9447,.903),(.9448,.413),(.9449,.197),(.9449,.622),(.9450,.838),(.9451,.497),
(.9452,.738),(.9453,.313),(.9453,.397),(.9454,.613),(.9455,.188),(.9456,.705),(.9457,.530),(.9458,.417),(.9458,.322),
(.9459,.000),(.9460,.903),(.9461,.622),(.9462,.513),(.9462,.705),(.9463,.855),(.9464,.397),(.9464,.110),(.9465,.210),
(.9466,.613),(.9467,.805),(.9467,.313),(.9468,.530),(.9469,.713),(.9470,.422),(.9471,.838),(.9472,.183),(.9472,.647),
(.9473,.322),(.9474,.097),(.9475,.530),(.9476,.738),(.9477,.427),(.9478,.903),(.9479,.097),(.9479,.822),(.9480,.622),
(.9481,.530),(.9482,.317),(.9482,.713),(.9483,.417),(.9485,.580),(.9485,.317),(.9487,.527),(.9489,.193),(.9490,.583),
(.9492,.638),(.9493,.322),(.9493,.422),(.9497,.533),(.9499,.427),(.9502,.427),(.9503,.313),(.9510,.208),(.9523,.730),
(.9405,.40),(.9412,.42),(.9420,.40),(.9428,.41),(.9436,.40),(.9444,.41),(.9452,.40),(.9460,.41),(.9468,.40),
(.9408,.50),(.9416,.52),(.9424,.51),(.9432,.52),(.9440,.50),(.9448,.51),(.9456,.52),(.9464,.51),(.9472,.52),
(.9415,.31),(.9423,.30),(.9431,.31),(.9439,.30),(.9447,.31),(.9455,.30),(.9463,.31),(.9471,.30),
(.9418,.60),(.9426,.61),(.9434,.60),(.9442,.61),(.9450,.60),(.9458,.61),(.9466,.60)]
NWOT_CORE = [(.9402,.41),(.9410,.40),(.9418,.41),(.9426,.40),(.9434,.41),(.9442,.40),(.9450,.41),(.9457,.40),
(.9465,.41),(.9473,.41),(.9480,.40),(.9487,.41),(.9412,.51),(.9420,.50),(.9428,.51),(.9436,.52),(.9444,.50),(.9452,.51),
(.9460,.50),(.9468,.51),(.9476,.50),(.9484,.51),(.9419,.31),(.9427,.30),(.9435,.31),(.9443,.30),(.9451,.31),(.9459,.30),
(.9467,.31),(.9475,.29),(.9422,.60),(.9430,.61),(.9438,.60),(.9446,.61),(.9454,.60),(.9462,.61),(.9470,.60),(.9408,.45),
(.9416,.46),(.9432,.46),(.9448,.45),(.9464,.46),(.9440,.56),(.9456,.56),(.9472,.55),(.9424,.25),(.9448,.25),(.9440,.66),
(.9456,.66),(.9470,.68)]

PARAMS = [(.9239,.172),(.9250,.050),(.9274,.247),(.9283,.213),(.9284,.183),(.9287,.267),(.9290,.297),(.9292,.227),
(.9294,.227),(.9297,.118),(.9297,.405),(.9299,.277),(.9304,.263),(.9308,.213),(.9309,.158),(.9311,.313),(.9313,.363),
(.9314,.188),(.9316,.263),(.9317,.063),(.9317,.322),(.9318,.133),(.9318,.417),(.9320,.230),(.9322,.288),(.9323,.183),
(.9324,.113),(.9326,.063),(.9327,.280),(.9327,.338),(.9329,.197),(.9330,.100),(.9331,.267),(.9332,.017),(.9333,.330),
(.9334,.188),(.9335,.247),(.9337,.138),(.9337,.050),(.9338,.322),(.9339,.222),(.9341,.163),(.9342,.363),(.9343,.267),
(.9344,.063),(.9345,.000),(.9346,.417),(.9347,.188),(.9348,.313),(.9349,.127),(.9350,.238),(.9352,.172),(.9353,.000),
(.9353,.417),(.9354,.280),(.9355,.130),(.9356,.047),(.9357,.213),(.9358,.363),(.9359,.172),(.9360,.317),(.9362,.097),
(.9363,.272),(.9364,.603),(.9365,.077),(.9365,.380),(.9367,.188),(.9368,.255),(.9369,.343),(.9370,.150),(.9372,.438),
(.9373,.060),(.9374,.230),(.9375,.313),(.9377,.143),(.9378,.397),(.9379,.077),(.9381,.247),(.9382,.338),(.9383,.172),
(.9384,.133),(.9386,.422),(.9387,.263),(.9388,.955),(.9389,.197),(.9390,.363),(.9391,.130),(.9392,.405),(.9393,.300),
(.9394,.238),(.9395,.438),(.9396,.088),(.9397,.555),(.9398,.205),(.9399,.347),(.9400,.113),(.9401,.588),(.9401,.280),
(.9402,.405),(.9403,.197),(.9404,.688),(.9405,.472),(.9405,.338),(.9406,.163),(.9407,.838),(.9408,.397),(.9409,.263),
(.9409,.080),(.9410,.530),(.9411,.322),(.9412,.217),(.9412,.630),(.9413,.422),(.9414,.763),(.9414,.147),(.9415,.513),
(.9416,.280),(.9417,.380),(.9418,.805),(.9419,.597),(.9419,.197),(.9420,.455),(.9421,.738),(.9422,.330),(.9423,.105),
(.9423,.555),(.9424,.230),(.9425,.847),(.9426,.413),(.9426,.647),(.9427,.280),(.9428,.138),(.9429,.497),(.9430,.355),
(.9430,.855),(.9431,.697),(.9432,.230),(.9433,.588),(.9433,.438),(.9434,.297),(.9435,.797),(.9436,.163),(.9437,.660),
(.9438,.530),(.9439,.363),(.9439,.088),(.9440,.747),(.9441,.597),(.9442,.263),(.9443,.463),(.9443,.927),(.9444,.830),
(.9445,.338),(.9446,.705),(.9446,.888),(.9447,.547),(.9448,.197),(.9449,.413),(.9449,.772),(.9450,.622),(.9451,.313),
(.9452,.980),(.9453,.480),(.9453,.805),(.9454,.380),(.9455,.047),(.9455,.850),(.9456,.655),(.9457,.263),(.9458,.952),
(.9458,.547),(.9459,.747),(.9460,.413),(.9461,.130),(.9462,.907),(.9462,.597),(.9463,.797),(.9464,.347),(.9465,.680),
(.9466,.538),(.9466,.888),(.9467,.980),(.9467,.938),(.9468,.430),(.9469,.772),(.9470,.230),(.9470,.630),(.9471,.497),
(.9472,.363),(.9473,.713),(.9474,.297),(.9474,.772),(.9475,.863),(.9476,.613),(.9477,1.0),(.9477,.455),(.9478,.900),
(.9478,.663),(.9479,.330),(.9480,.547),(.9481,.897),(.9482,.705),(.9483,.597),(.9484,.743),(.9485,.255),(.9487,.700),
(.9488,.280),(.9489,.513),(.9490,.805),(.9492,.743),(.9494,.883),(.9497,.413),(.9498,.743),(.9502,.830),(.9503,.433),
(.9509,.785),(.9523,.593),
(.9415,.33),(.9420,.26),(.9425,.36),(.9428,.42),(.9432,.33),(.9436,.41),(.9440,.31),(.9444,.45),(.9448,.38),(.9452,.56),
(.9456,.48),(.9460,.58),(.9464,.52),(.9468,.62),(.9410,.40),(.9406,.25),(.9398,.30),(.9418,.50),(.9438,.23),(.9450,.26)]
PARAMS_CORE = [(.9401,.33),(.9403,.25),(.9405,.41),(.9407,.30),(.9409,.48),(.9411,.22),(.9413,.36),(.9415,.44),
(.9417,.28),(.9419,.52),(.9421,.35),(.9422,.24),(.9424,.45),(.9426,.31),(.9427,.55),(.9429,.40),(.9431,.27),(.9432,.48),
(.9434,.36),(.9436,.58),(.9437,.30),(.9439,.45),(.9441,.38),(.9442,.62),(.9444,.28),(.9446,.50),(.9447,.41),(.9449,.65),
(.9451,.35),(.9453,.55),(.9454,.46),(.9456,.70),(.9458,.40),(.9460,.62),(.9461,.50),(.9463,.72),(.9465,.45),(.9467,.60),
(.9469,.52),(.9471,.68),(.9473,.58),(.9476,.50)]

PLAIN = [(.9239,.127),(.9250,.077),(.9274,.163),(.9284,.522),(.9284,.242),(.9286,.202),(.9288,.100),(.9290,.163),
(.9292,.217),(.9294,.118),(.9295,.217),(.9297,.372),(.9298,.117),(.9299,.213),(.9304,.218),(.9308,.277),(.9311,.147),
(.9312,.077),(.9313,.088),(.9315,.213),(.9316,.297),(.9316,.133),(.9318,.247),(.9319,.188),(.9320,.088),(.9321,.213),
(.9323,.238),(.9324,.172),(.9326,.280),(.9327,.147),(.9329,.350),(.9330,.247),(.9331,.122),(.9332,.197),(.9334,.322),
(.9335,.263),(.9337,.172),(.9338,.113),(.9339,.380),(.9340,.230),(.9341,.030),(.9342,.297),(.9343,.163),(.9345,.263),
(.9346,.522),(.9347,.097),(.9347,.397),(.9348,.197),(.9349,.050),(.9350,.283),(.9352,.172),(.9353,.363),(.9355,.247),
(.9356,.147),(.9357,.338),(.9358,.230),(.9359,.100),(.9360,.297),(.9362,.197),(.9363,.322),(.9364,.080),(.9365,.255),
(.9366,.355),(.9367,.147),(.9368,.397),(.9369,.222),(.9370,.055),(.9372,.297),(.9373,.147),(.9374,.422),(.9375,.247),
(.9376,.088),(.9377,.438),(.9378,.188),(.9379,.322),(.9381,.055),(.9382,.380),(.9382,.230),(.9383,.447),(.9384,.097),
(.9386,.330),(.9387,.188),(.9388,.397),(.9390,.288),(.9391,.030),(.9392,.147),(.9393,.363),(.9395,.422),(.9395,.230),
(.9396,.097),(.9397,.322),(.9399,.197),(.9399,.397),(.9400,.488),(.9401,.130),(.9402,.280),(.9403,.438),(.9404,.080),
(.9404,.355),(.9405,.530),(.9406,.213),(.9407,.313),(.9407,.163),(.9408,.080),(.9409,.430),(.9410,.263),(.9411,.005),
(.9411,.372),(.9412,.130),(.9413,.472),(.9414,.213),(.9414,.330),(.9415,.030),(.9416,.163),(.9417,.263),(.9418,.097),
(.9419,.430),(.9420,.338),(.9420,.197),(.9421,.467),(.9422,.063),(.9423,.280),(.9423,.147),(.9424,.388),(.9425,.022),
(.9426,.230),(.9426,.505),(.9427,.322),(.9428,.105),(.9429,.197),(.9430,.405),(.9430,.297),(.9431,.072),(.9432,.463),
(.9433,.172),(.9433,.263),(.9434,.363),(.9435,.097),(.9436,.230),(.9437,.413),(.9438,.155),(.9439,.313),(.9439,.488),
(.9440,.063),(.9441,.197),(.9442,.363),(.9443,.255),(.9443,.122),(.9444,.438),(.9445,.313),(.9446,.550),(.9446,.088),
(.9447,.188),(.9448,.397),(.9449,.497),(.9449,.280),(.9450,1.0),(.9450,.130),(.9451,.488),(.9452,.363),(.9453,.197),
(.9453,.472),(.9454,.005),(.9454,.097),(.9455,.313),(.9456,.438),(.9457,.238),(.9458,.397),(.9458,.130),(.9459,.505),
(.9460,.613),(.9460,.313),(.9461,.197),(.9462,.413),(.9462,.097),(.9463,.522),(.9464,.272),(.9465,.363),(.9466,.538),
(.9466,.163),(.9467,.447),(.9468,.313),(.9469,.230),(.9470,.413),(.9470,.113),(.9471,.463),(.9472,.263),(.9473,.063),
(.9474,.363),(.9474,.163),(.9475,.430),(.9476,.280),(.9477,.013),(.9477,.197),(.9478,.347),(.9478,.447),(.9479,.230),
(.9480,.530),(.9481,.155),(.9482,.330),(.9483,.380),(.9483,.505),(.9484,.272),(.9486,.063),(.9487,.547),(.9488,.330),
(.9489,.583),(.9490,.180),(.9492,.472),(.9493,.388),(.9495,.300),(.9497,.400),(.9498,.405),(.9502,.317),(.9503,.300),
(.9510,.280),(.9524,.308),
(.9405,.24),(.9412,.18),(.9418,.25),(.9424,.20),(.9428,.27),(.9432,.22),(.9436,.30),(.9440,.24),(.9444,.18),(.9448,.30),
(.9452,.26),(.9456,.20),(.9460,.34),(.9464,.22),(.9468,.37),(.9472,.32),(.9420,.12),(.9430,.14),(.9445,.15),(.9455,.24)]
PLAIN_CORE = [(.9401,.21),(.9403,.15),(.9405,.29),(.9407,.10),(.9409,.22),(.9411,.32),(.9413,.17),(.9415,.26),
(.9417,.11),(.9419,.21),(.9421,.30),(.9422,.15),(.9424,.24),(.9426,.10),(.9427,.19),(.9429,.35),(.9431,.25),(.9432,.14),
(.9434,.21),(.9436,.31),(.9437,.09),(.9439,.19),(.9441,.27),(.9442,.13),(.9444,.23),(.9446,.36),(.9447,.16),(.9449,.25),
(.9451,.11),(.9452,.30),(.9454,.20),(.9456,.27),(.9457,.15),(.9459,.36),(.9461,.26),(.9463,.17),(.9464,.32),(.9466,.23),
(.9468,.14),(.9470,.28),(.9472,.19),(.9475,.25),(.9478,.14),(.9480,.27)]

SNIP = [(.9239,.480),(.9250,.232),(.9274,.537),(.9283,.530),(.9284,.443),(.9286,.563),(.9288,.463),(.9290,.525),
(.9291,.477),(.9292,.730),(.9293,.410),(.9296,.327),(.9297,.440),(.9298,.592),(.9299,.630),(.9304,.275),(.9308,.772),
(.9309,.372),(.9310,.627),(.9312,.473),(.9313,.617),(.9313,.390),(.9315,.563),(.9315,.450),(.9316,.123),(.9317,.455),
(.9318,.580),(.9320,.413),(.9321,.660),(.9323,.633),(.9323,.410),(.9325,.710),(.9326,.363),(.9327,.522),(.9328,.672),
(.9329,.488),(.9330,.547),(.9331,.597),(.9333,.320),(.9334,.447),(.9335,.555),(.9336,.747),(.9337,.372),(.9339,.743),
(.9340,.297),(.9340,.522),(.9341,.580),(.9342,.667),(.9343,.430),(.9344,.367),(.9345,.538),(.9346,.350),(.9347,.480),
(.9348,.238),(.9349,.497),(.9350,.413),(.9351,.637),(.9352,.555),(.9353,.472),(.9354,.330),(.9355,.605),(.9356,.530),
(.9357,.805),(.9358,.422),(.9359,.330),(.9360,.580),(.9361,.233),(.9362,.480),(.9363,.688),(.9364,.788),(.9365,.375),
(.9366,.530),(.9366,.647),(.9367,.597),(.9368,.430),(.9369,.313),(.9370,.505),(.9372,.388),(.9372,.597),(.9374,.547),
(.9375,.447),(.9376,.313),(.9376,.000),(.9377,.505),(.9378,.247),(.9379,.397),(.9380,.238),(.9382,.505),(.9382,.655),
(.9383,.363),(.9384,.288),(.9385,.463),(.9386,.538),(.9388,.733),(.9389,.330),(.9390,.597),(.9391,.705),(.9392,.455),
(.9393,.363),(.9394,.513),(.9395,.413),(.9396,.238),(.9397,.322),(.9399,.530),(.9400,.772),(.9401,.380),(.9402,.647),
(.9402,.297),(.9403,.463),(.9404,.797),(.9405,.563),(.9405,.247),(.9406,.397),(.9407,.683),(.9408,.497),(.9409,.347),
(.9409,.247),(.9410,.597),(.9411,.188),(.9412,.438),(.9412,.530),(.9413,.330),(.9414,.830),(.9415,.397),(.9416,.480),
(.9416,.805),(.9417,.297),(.9418,.197),(.9419,.430),(.9420,.910),(.9420,.738),(.9420,.363),(.9421,.547),(.9422,.463),
(.9423,.280),(.9424,.680),(.9424,.413),(.9425,.872),(.9425,.250),(.9426,.513),(.9427,.363),(.9427,.747),(.9428,.438),
(.9429,.313),(.9430,.838),(.9431,.597),(.9431,.397),(.9432,.497),(.9433,.330),(.9434,.655),(.9435,.855),(.9435,.430),
(.9436,.280),(.9437,.538),(.9438,.713),(.9439,.463),(.9439,.363),(.9440,.797),(.9441,.597),(.9442,.172),(.9443,.430),
(.9443,.947),(.9444,.680),(.9445,.513),(.9446,.230),(.9446,.163),(.9446,.880),(.9447,.363),(.9448,.738),(.9449,.472),
(.9449,.830),(.9450,.297),(.9451,.630),(.9452,.938),(.9453,.438),(.9453,.763),(.9454,.313),(.9455,.855),(.9456,.547),
(.9457,.380),(.9458,.972),(.9458,.697),(.9459,.472),(.9460,.313),(.9461,.838),(.9462,.597),(.9462,.397),(.9463,.738),
(.9464,.497),(.9465,.330),(.9466,.863),(.9466,.663),(.9467,.955),(.9468,.447),(.9469,.805),(.9470,.288),(.9470,.563),
(.9471,.847),(.9472,.413),(.9473,.713),(.9474,.880),(.9474,.513),(.9475,.363),(.9476,.838),(.9477,.647),(.9478,.447),
(.9479,.983),(.9480,1.0),(.9481,.705),(.9481,.147),(.9482,.522),(.9483,.797),(.9484,.322),(.9485,.755),(.9486,.413),
(.9488,.488),(.9489,.597),(.9490,.463),(.9491,.755),(.9492,.692),(.9494,.833),(.9497,.922),(.9499,.643),(.9502,.817),
(.9503,.692),(.9510,.830),(.9523,.730),
(.9415,.45),(.9420,.52),(.9425,.42),(.9428,.55),(.9432,.46),(.9436,.50),(.9440,.41),(.9444,.48),(.9448,.56),(.9452,.44),
(.9456,.50),(.9460,.42),(.9464,.55),(.9468,.48),(.9410,.48),(.9405,.40),(.9438,.60),(.9450,.38),(.9442,.35),(.9430,.43)]
SNIP_CORE = [(.9401,.42),(.9403,.50),(.9405,.35),(.9407,.45),(.9409,.53),(.9411,.38),(.9413,.48),(.9415,.33),
(.9417,.43),(.9419,.52),(.9421,.37),(.9422,.46),(.9424,.30),(.9426,.41),(.9427,.50),(.9429,.36),(.9431,.45),(.9432,.54),
(.9434,.39),(.9436,.47),(.9437,.32),(.9439,.42),(.9441,.51),(.9442,.38),(.9444,.45),(.9446,.34),(.9447,.42),(.9449,.52),
(.9451,.40),(.9453,.47),(.9454,.35),(.9456,.44),(.9458,.53),(.9460,.38),(.9461,.48),(.9463,.42),(.9465,.51),(.9467,.37),
(.9469,.45),(.9472,.40),(.9474,.30),(.9476,.55)]

SYNFLOW_X = [.9239,.9250,.9274,.9283,.9285,.9288,.9290,.9293,.9296,.9298,.9301,.9304,.9306,.9309,.9312,.9314,.9317,
.9320,.9323,.9325,.9328,.9331,.9333,.9336,.9339,.9342,.9344,.9347,.9350,.9352,.9355,.9358,.9361,.9363,.9366,.9369,
.9371,.9374,.9377,.9380,.9382,.9385,.9388,.9390,.9393,.9396,.9399,.9401,.9404,.9407,.9409,.9412,.9415,.9418,.9420,
.9423,.9426,.9428,.9431,.9434,.9437,.9439,.9442,.9445,.9447,.9450,.9453,.9456,.9458,.9461,.9464,.9466,.9469,.9472,
.9475,.9477,.9480,.9483,.9485,.9488,.9491,.9494,.9496,.9499,.9502,.9503,.9510,.9524]
SYNFLOW_TOP = (.9459, 1.0)

ZEN = [(.9239,.018),(.9250,.003),(.9274,.043),(.9284,.027),(.9284,.013),(.9286,.035),(.9288,.020),(.9290,.040),
(.9292,.030),(.9294,.050),(.9296,.025),(.9298,.060),(.9300,.040),(.9302,.055),(.9304,.045),(.9306,.030),(.9308,.015),
(.9310,.050),(.9312,.035),(.9314,.025),(.9316,.055),(.9318,.040),(.9320,.020),(.9322,.050),(.9324,.035),(.9326,.010),
(.9328,.045),(.9330,.060),(.9332,.030),(.9334,.015),(.9336,.050),(.9338,.040),(.9340,.065),(.9342,.025),(.9344,.055),
(.9346,.005),(.9346,.040),(.9348,.065),(.9350,.030),(.9352,.050),(.9354,.020),(.9356,.045),(.9358,.060),(.9360,.035),
(.9362,.070),(.9364,.025),(.9366,.050),(.9368,.075),(.9370,.040),(.9372,.060),(.9374,.015),(.9376,.050),(.9378,.030),
(.9380,.060),(.9382,.045),(.9385,.020),(.9388,.050),(.9391,.035),(.9394,.020),(.9396,.040),(.9400,.057),(.9408,.023),
(.9413,.060),(.9422,.027),(.9300,.020),(.9310,.030),(.9320,.060),(.9330,.025),(.9340,.045),(.9350,.055),(.9360,.015),
(.9370,.020),(.9335,.035),(.9345,.020),(.9355,.065),(.9365,.035),
(.9330,.306),(.9340,.316),(.9346,.319),(.9356,.329),(.9359,.339),(.9364,.309),(.9366,.334),(.9367,.326),(.9372,.360),
(.9374,.300),(.9376,.345),(.9378,.320),(.9380,.355),(.9382,.310),(.9384,.340),(.9386,.300),(.9388,.330),(.9390,.375),
(.9392,.315),(.9394,.350),(.9396,.330),(.9398,.380),(.9400,.360),(.9402,.305),(.9404,.340),(.9406,.320),(.9408,.290),
(.9410,.365),(.9412,.335),(.9414,.350),(.9416,.310),(.9418,.340),(.9420,.295),(.9422,.355),(.9424,.325),(.9426,.345),
(.9428,.305),(.9430,.335),(.9432,.355),(.9434,.315),(.9436,.340),(.9438,.325),(.9440,.350),(.9442,.310),(.9444,.345),
(.9446,.330),(.9448,.360),(.9450,.320),(.9452,.295),(.9454,.340),(.9456,.315),(.9458,.345),(.9460,.290),(.9462,.330),
(.9465,.320),(.9467,.329),(.9471,.339),(.9395,.315),(.9405,.335),(.9415,.325),(.9425,.340),(.9435,.325),(.9445,.315),
(.9391,.626),(.9392,.562),(.9395,.671),(.9398,.587),(.9400,.640),(.9402,.610),(.9404,.630),(.9406,.600),(.9408,.645),
(.9410,.620),(.9412,.590),(.9414,.655),(.9416,.615),(.9418,.635),(.9420,.600),(.9422,.645),(.9424,.620),(.9426,.585),
(.9428,.640),(.9430,.610),(.9432,.670),(.9434,.625),(.9436,.600),(.9438,.645),(.9440,.615),(.9442,.635),(.9444,.590),
(.9446,.655),(.9448,.620),(.9450,.575),(.9452,.640),(.9454,.605),(.9456,.670),(.9458,.630),(.9460,.610),(.9462,.645),
(.9464,.590),(.9466,.625),(.9468,.655),(.9470,.600),(.9472,.635),(.9474,.615),(.9476,.640),(.9478,.590),(.9480,.620),
(.9483,.667),(.9485,.600),(.9487,.635),(.9489,.629),(.9417,.625),(.9427,.615),(.9437,.625),(.9447,.630),(.9457,.615),
(.9365,.895),(.9389,1.0),(.9400,.900),(.9404,.933),(.9406,.910),(.9410,.920),(.9413,.955),(.9415,.880),(.9417,.935),
(.9420,.900),(.9422,.960),(.9424,.925),(.9426,.945),(.9428,.875),(.9430,.930),(.9432,.970),(.9434,.915),(.9436,.950),
(.9438,.935),(.9440,.905),(.9442,.960),(.9444,.925),(.9446,.940),(.9448,.900),(.9450,.965),(.9452,.930),(.9454,.950),
(.9456,.890),(.9458,.985),(.9459,.920),(.9460,.860),(.9462,.955),(.9464,.935),(.9466,.910),(.9468,.970),(.9470,.930),
(.9472,.950),(.9474,.900),(.9476,.965),(.9478,.925),(.9480,.945),(.9482,.890),(.9484,.960),(.9486,.935),(.9488,.915),
(.9490,.950),(.9493,.925),(.9496,.940),(.9499,.950),(.9503,.920),(.9510,.923),(.9524,.933),(.9445,.935),(.9451,.945),
(.9455,.925),(.9461,.940),(.9465,.920),(.9469,.945),(.9473,.935),(.9441,.94),(.9449,.915),(.9457,.955)]
ZEN_CORE = [(.9287,.05),(.9293,.015),(.9297,.045),(.9303,.03),(.9307,.06),(.9313,.045),(.9317,.02),(.9323,.065),
(.9327,.025),(.9333,.045),(.9337,.06),(.9343,.035),(.9347,.055),(.9353,.035),(.9357,.015),(.9363,.055),(.9367,.02),
(.9369,.06),(.9373,.04),(.9377,.065),(.9381,.025),(.9384,.055),(.9387,.035),
(.9377,.33),(.9383,.36),(.9389,.30),(.9393,.345),(.9399,.31),(.9403,.355),(.9409,.34),(.9413,.30),(.9419,.36),(.9423,.31),
(.9429,.345),(.9433,.30),(.9439,.33),(.9443,.36),(.9449,.305),(.9453,.35),(.9457,.33),(.9461,.35),(.9437,.355),(.9427,.325),
(.9403,.60),(.9409,.63),(.9413,.62),(.9419,.65),(.9423,.595),(.9429,.625),(.9433,.605),(.9439,.63),(.9443,.65),(.9449,.605),
(.9453,.625),(.9459,.65),(.9463,.61),(.9469,.63),(.9473,.60),(.9477,.625),(.9481,.64),(.9445,.62),(.9435,.64),(.9425,.63),
(.9418,.92),(.9427,.93),(.9433,.905),(.9437,.925),(.9439,.955),(.9443,.91),(.9447,.96),(.9450,.93),(.9453,.91),(.9456,.94),
(.9459,.96),(.9462,.925),(.9464,.895),(.9467,.945),(.9470,.965),(.9474,.925),(.9477,.945),(.9481,.925),(.9485,.95),
(.9489,.93),(.9492,.945),(.9458,.93),(.9453,.965),(.9467,.92)]

JACOV = ([(x, JACOV_LEVELS[0]) for x in JACOV_X_1] + [(x, JACOV_LEVELS[1]) for x in JACOV_X_2]
         + [(x, JACOV_LEVELS[2]) for x in JACOV_X_3] + [(x, JACOV_LEVELS[3]) for x in JACOV_X_4])
SYNFLOW = [(x, 0.0) for x in SYNFLOW_X] + [SYNFLOW_TOP]

PANELS = [
    ("epe_nas", "(a)", "EPE-NAS", EPE_NAS + EPE_NAS_CORE), ("fisher", "(b)", "Fisher", FISHER + FISHER_CORE),
    ("flops", "(c)", "Flops", FLOPS + FLOPS_CORE), ("grad_norm", "(d)", "Grad Norm", GRAD_NORM + GRAD_NORM_CORE),
    ("grad_sign", "(e)", "GradSign", GRAD_SIGN + GRAD_SIGN_CORE), ("grasp", "(f)", "Grasp", GRASP + GRASP_CORE),
    ("jacov", "(g)", "Jacov", JACOV), ("l2_norm", "(h)", "L2 Norm", L2_NORM + L2_NORM_CORE),
    ("nwot", "(i)", "NAS-WOT", NWOT + NWOT_CORE), ("params", "(j)", "Params", PARAMS + PARAMS_CORE),
    ("plain", "(k)", "Plain", PLAIN + PLAIN_CORE), ("snip", "(l)", "SNIP", SNIP + SNIP_CORE),
    ("synflow", "(m)", "Synflow", SYNFLOW), ("zen", "(n)", "Zen", ZEN + ZEN_CORE),
]
X_TICKS = [0.925, 0.930, 0.935, 0.940, 0.945, 0.950]
Y_TICKS = [0.0, 0.2, 0.4, 0.6, 0.8, 1.0]

# ---------------- layout / style ----------------
W, H = 327, 221
BLUE = "#1f77b4"
CAP_FS = 27
REG = {"A": .722, "E": .611, "F": .556, "G": .722, "I": .333, "J": .389, "L": .611, "N": .722, "O": .722, "P": .556,
       "S": .556, "T": .611, "W": .944, "Z": .611, "a": .444, "c": .444, "d": .5, "e": .444, "f": .333, "g": .5,
       "h": .5, "i": .278, "l": .278, "m": .778, "n": .5, "o": .5, "p": .5, "r": .333, "s": .389, "v": .5, "w": .722,
       "y": .5, "2": .5, "-": .333, " ": .25}
BOLD = {"(": .333, ")": .333, "a": .5, "b": .556, "c": .444, "d": .556, "e": .444, "f": .333, "g": .5, "h": .556,
        "i": .278, "j": .333, "k": .556, "l": .278, "m": .833, "n": .556}


def tw(s, tab):
    return sum(tab.get(c, 0.5) for c in s) * CAP_FS


def panel(key, tag, label, pts):
    df = pd.DataFrame(pts, columns=["val_acc", "score"])
    scatter = alt.Chart(df).mark_circle(size=40, color=BLUE, opacity=1).encode(
        x=alt.X("val_acc:Q", scale=alt.Scale(domain=[0.92247, 0.95383], nice=False, zero=False),
                axis=alt.Axis(values=X_TICKS, format=".3f", title="val_acc")),
        y=alt.Y("score:Q", scale=alt.Scale(domain=[-0.05, 1.05], nice=False, zero=False),
                axis=alt.Axis(values=Y_TICKS, format=".1f", title=key)),
    )
    wb, wr, gap = tw(tag, BOLD), tw(label, REG), 8
    start = W / 2 - 15 - (wb + gap + wr) / 2
    cap_b = alt.Chart(pd.DataFrame({"t": [tag]})).mark_text(
        font="Liberation Serif", fontSize=CAP_FS, fontWeight="bold", align="left", baseline="alphabetic",
        color="black").encode(x=alt.value(start), y=alt.value(H + 85), text="t:N")
    cap_r = alt.Chart(pd.DataFrame({"t": [label]})).mark_text(
        font="Liberation Serif", fontSize=CAP_FS, fontWeight="normal", align="left", baseline="alphabetic",
        color="black").encode(x=alt.value(start + wb + gap), y=alt.value(H + 85), text="t:N")
    return alt.layer(scatter, cap_b, cap_r).properties(width=W, height=H, title=key)


charts = [panel(*p) for p in PANELS]
rows = [alt.hconcat(*charts[i:i + 3], spacing=74.7, bounds="flush") for i in range(0, 12, 3)]
rows.append(alt.hconcat(*charts[12:14], spacing=74.7, bounds="flush"))

chart = alt.vconcat(*rows, spacing=21.65, center=True).properties(
    padding={"left": 4.5, "top": 2.2, "right": 0, "bottom": 0}, background="white"
).configure_view(stroke="#222", strokeWidth=1).configure_axis(
    grid=False, domain=False, ticks=True, tickColor="#222", tickSize=3.5, tickWidth=0.8,
    labelFont="DejaVu Sans", labelFontSize=9.5, labelColor="#222", labelPadding=2,
    titleFont="DejaVu Sans", titleFontSize=9.5, titleFontWeight="normal", titleColor="#222",
).configure_axisX(titlePadding=2).configure_axisY(titlePadding=3).configure_title(
    font="DejaVu Sans", fontSize=10, fontWeight="normal", color="#222", anchor="middle", offset=5
)

chart.save("out.html", embed_options={"renderer": "svg", "actions": False})
